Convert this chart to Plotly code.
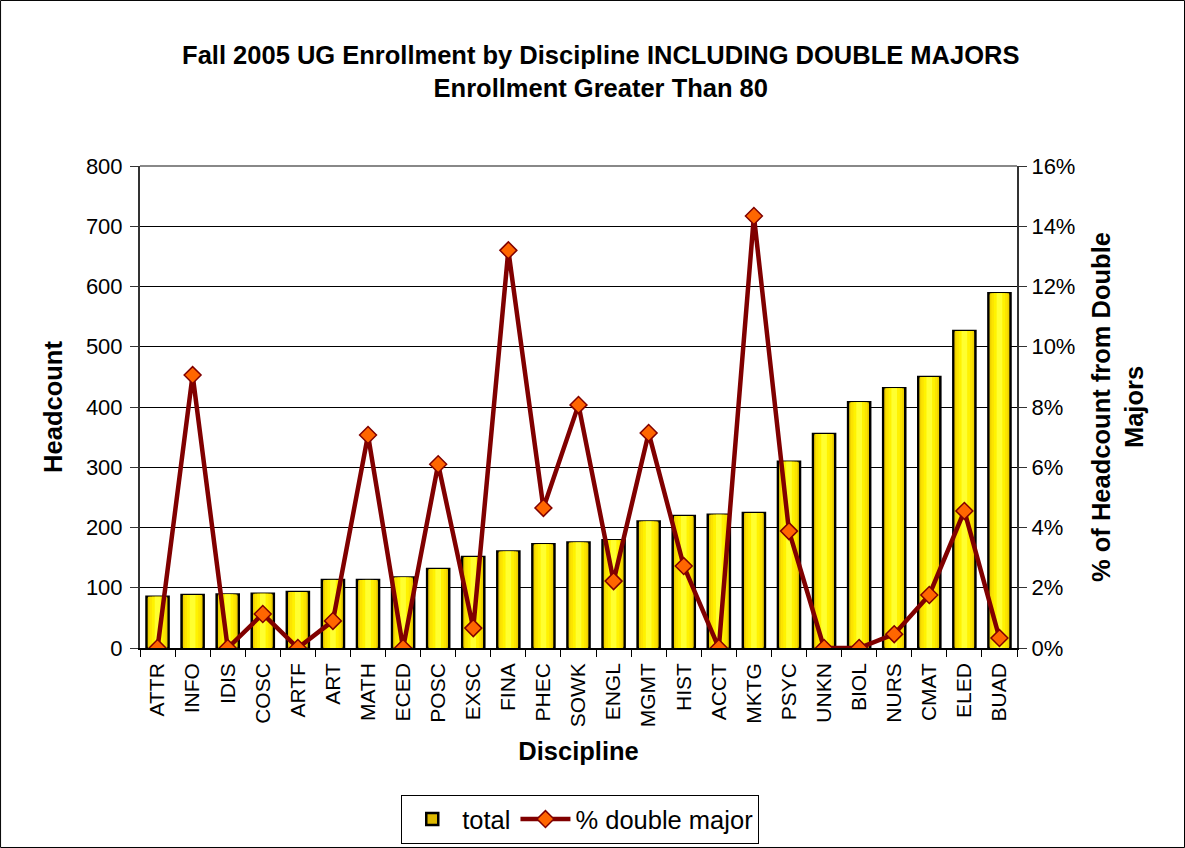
import plotly.graph_objects as go

# discipline codes, sorted by headcount
disciplines = ["ATTR", "INFO", "IDIS", "COSC", "ARTF", "ART", "MATH", "ECED", "POSC", "EXSC",
               "FINA", "PHEC", "SOWK", "ENGL", "MGMT", "HIST", "ACCT", "MKTG", "PSYC", "UNKN",
               "BIOL", "NURS", "CMAT", "ELED", "BUAD"]
total = [85, 88, 89, 90, 93, 113, 113, 117, 131, 151,
         160, 172, 175, 179, 210, 219, 221, 224, 309, 355,
         408, 431, 450, 526, 589]
# share of headcount coming from double majors
pct_double = [0.0, 9.06, 0.0, 1.13, 0.0, 0.9, 7.07, 0.0, 6.1, 0.66,
              13.2, 4.65, 8.07, 2.22, 7.14, 2.72, 0.0, 14.34, 3.88, 0.0,
              0.0, 0.46, 1.76, 4.55, 0.33]

font = "Liberation Sans, Arial, sans-serif"
big = 25.5
tick = 22

fig = go.Figure()

# fake the excel gradient with a few stacked bar layers
layers = [(0.63, "#DDB800", True), (0.55, "#EED200", False),
          (0.46, "#FCE400", False), (0.32, "#FFF200", False), (0.16, "#FFFF30", False)]
for w, col, first in layers:
    fig.add_trace(go.Bar(
        x=disciplines, y=total, width=w, name="total",
        marker=dict(color=col, line=dict(color="black", width=2.5 if first else 0)),
        showlegend=first, hoverinfo=None if first else "skip"))

fig.add_trace(go.Scatter(
    x=disciplines, y=pct_double, name="% double major", yaxis="y2",
    mode="lines+markers",
    line=dict(color="#800000", width=4.5),
    marker=dict(symbol="diamond", size=13, color="#FF6600",
                line=dict(color="#800000", width=1.5))))

fig.update_layout(
    width=1185, height=848,
    barmode="overlay",
    paper_bgcolor="white", plot_bgcolor="white",
    margin=dict(l=140, r=168, t=166, b=200, autoexpand=False),
    font=dict(family=font, size=tick, color="black"),
    title=dict(text="<b>Fall 2005 UG Enrollment by Discipline INCLUDING DOUBLE MAJORS<br>Enrollment Greater Than 80</b>",
               x=0.507, xanchor="center", y=0.925, yanchor="top",
               font=dict(size=big, family=font)),
    xaxis=dict(
        range=[-0.5, len(disciplines) - 0.5],
        tickangle=-90, tickfont=dict(size=21), ticklabelstandoff=5,
        showline=True, linecolor="black", linewidth=1.5,
        ticks="outside", tickson="boundaries", ticklen=7, tickcolor="black",
        title=dict(text="<b>Discipline</b>", font=dict(size=big), standoff=16),
        automargin=False),
    yaxis=dict(
        range=[0, 800], dtick=100,
        showgrid=True, gridcolor="black", gridwidth=1,
        showline=True, linecolor="#333333", linewidth=2,
        ticks="outside", ticklen=8, tickcolor="#333333", ticklabelstandoff=3,
        zeroline=False,
        title=dict(text="<b>Headcount</b>", font=dict(size=big), standoff=16),
        automargin=False),
    yaxis2=dict(
        overlaying="y", side="right",
        range=[0, 16], dtick=2, ticksuffix="%",
        showgrid=False, zeroline=False,
        showline=True, linecolor="#333333", linewidth=2,
        ticks="outside", ticklen=8, tickcolor="#333333",
        title=dict(text="<b>% of Headcount from Double<br>Majors</b>", font=dict(size=big), standoff=18),
        automargin=False),
    legend=dict(
        orientation="h", x=0.502, xanchor="center", y=-0.305, yanchor="top",
        bordercolor="black", borderwidth=1, font=dict(size=big),
        itemwidth=50, tracegroupgap=0),
    showlegend=True,
)

# gray top border of the plot area
fig.add_shape(type="line", xref="paper", yref="paper", x0=0, x1=1, y0=1, y1=1,
              line=dict(color="#888888", width=2))
# frame round the whole chart
fig.add_shape(type="rect", xref="paper", yref="paper",
              x0=-0.159, x1=1.191, y0=-0.4139, y1=1.3434,
              line=dict(color="black", width=1))

# drop the browser's default body margin so the chart sits at 0,0
fig.write_html("out.html", config={"displayModeBar": False},
               post_script="document.body.style.margin='0px';")
